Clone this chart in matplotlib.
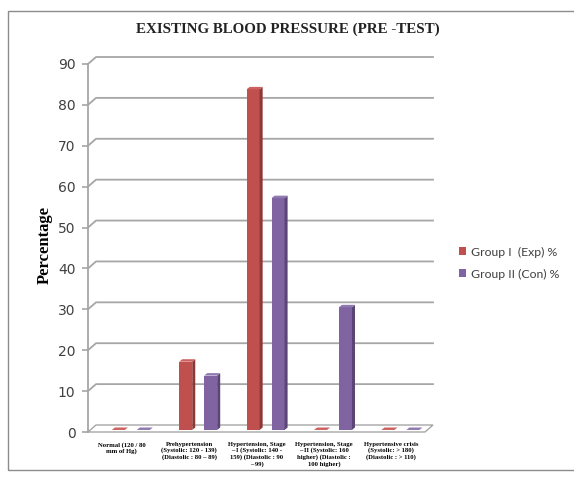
import numpy as np
import matplotlib.pyplot as plt
from matplotlib.patches import Polygon, Rectangle, Patch

# categories and percentages (n = 30 per group)
categories = [
    "Normal (120 / 80\nmm of Hg)",
    "Prehypertension\n(Systolic: 120 - 139)\n(Diastolic : 80 \u2013 89)",
    "Hypertension, Stage\n\u2013 I (Systolic: 140 -\n159) (Diastolic : 90\n\u2013 99)",
    "Hypertension, Stage\n\u2013 II (Systolic: 160\nhigher) (Diastolic :\n100 higher)",
    "Hypertensive crisis\n(Systolic: > 180)\n(Diastolic : > 110)",
]
group1 = [0, 16.7, 83.3, 0, 0]
group2 = [0, 13.3, 56.7, 30, 0]
series_names = ["Group I  (Exp) %", "Group II (Con) %"]
yticks = list(range(0, 91, 10))

# depth of the back wall (data units) and of each bar
DX, DY = 0.119, 1.71
SDX, SDY = 0.045, 0.6
W = 0.193
SHIFT = 0.135
GAP = 0.185
BASE = 0.5

colors = [("#C0504D", "#8E3836", "#CB625F"),
          ("#8064A2", "#5A4575", "#9078B0")]

fig = plt.figure(figsize=(5.74, 4.83), dpi=100)
W_PX, H_PX = 574, 483
ax = fig.add_axes([88 / W_PX, (H_PX - 432) / H_PX, 345 / W_PX, 375 / H_PX])
ax.set_xlim(-0.5, 4.5 + DX)
ax.set_ylim(0, 90 + DY)

grid_c = "#A6A6A6"
# floor
floor = Polygon([(-0.5, 0), (4.5, 0), (4.5 + DX, DY), (-0.5 + DX, DY)],
                closed=True, facecolor="white", edgecolor=grid_c, lw=1.0,
                clip_on=False, zorder=1)
ax.add_patch(floor)
# gridlines on the back wall plus the slanted joins
for t in yticks[1:]:
    ax.plot([-0.5, -0.5 + DX, 4.5 + DX], [t, t + DY, t + DY],
            color=grid_c, lw=1.3, clip_on=False, zorder=1)

# bars with side and top faces
xs = np.arange(len(categories))
for k, vals in enumerate([group1, group2]):
    front, side, top = colors[k]
    pos = xs + SHIFT + (-GAP if k == 0 else GAP)
    ax.bar(pos, vals, W, bottom=BASE, color=front, zorder=3, label=series_names[k])
    for x, v in zip(pos, vals):
        r = x + W / 2
        l = x - W / 2
        h = BASE + v
        if v > 0:
            ax.add_patch(Polygon([(r, BASE), (r + SDX, BASE + SDY), (r + SDX, h + SDY), (r, h)],
                                 closed=True, facecolor=side, edgecolor="none", zorder=3))
        ax.add_patch(Polygon([(l, h), (r, h), (r + SDX, h + SDY), (l + SDX, h + SDY)],
                             closed=True, facecolor=top, edgecolor="none", zorder=3))

# axes styling
for s in ["top", "right", "bottom"]:
    ax.spines[s].set_visible(False)
ax.spines["left"].set_bounds(0, 90)
ax.spines["left"].set_color(grid_c)
ax.spines["left"].set_linewidth(1.3)
ax.set_yticks(yticks)
ax.set_yticklabels([str(t) for t in yticks], fontsize=10, color="#404040",
                   family="DejaVu Sans")
ax.tick_params(axis="y", length=4, width=1.2, color=grid_c, pad=5)
ax.set_xticks(xs)
ax.set_xticklabels(categories, fontsize=4.8, family="Liberation Serif",
                   fontweight="bold", linespacing=1.2)
ax.tick_params(axis="x", length=0, pad=7)

ax.set_ylabel("Percentage", fontsize=12, family="Liberation Serif",
              fontweight="bold", labelpad=4)

fig.text(288 / W_PX, 1 - 29 / H_PX, "EXISTING BLOOD PRESSURE (PRE -TEST)",
         ha="center", va="center", fontsize=10.8, family="Liberation Serif",
         fontweight="bold", color="#222222")

handles = [Patch(facecolor=colors[0][0]), Patch(facecolor=colors[1][0])]
leg = fig.legend(handles, series_names, loc="center left",
                 bbox_to_anchor=(448 / W_PX, 1 - 263 / H_PX), frameon=False,
                 prop={"family": "Lato", "size": 8.8}, handlelength=0.6,
                 handleheight=0.6, handletextpad=0.4, labelspacing=0.9)
for txt in leg.get_texts():
    txt.set_color("#404040")

# outer frame
fig.add_artist(Rectangle((8 / W_PX, 1 - 470 / H_PX), 700 / W_PX, 459 / H_PX,
                         transform=fig.transFigure, fill=False,
                         edgecolor="#8C8C8C", lw=1.0))

fig.savefig("out.png", dpi=100)
